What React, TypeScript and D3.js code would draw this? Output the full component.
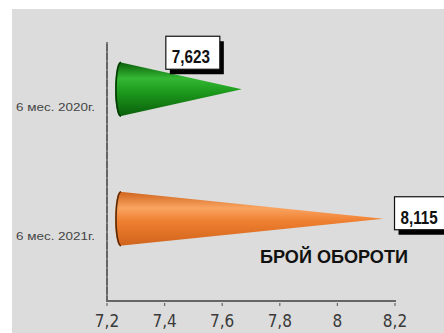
import React from "react";
import * as d3 from "d3";

const categories = ["6 мес. 2020г.", "6 мес. 2021г."];
const values = [7.623, 8.115];
const valueLabels = ["7,623", "8,115"];
const tickValues = [7.2, 7.4, 7.6, 7.8, 8, 8.2];
const tickLabels = ["7,2", "7,4", "7,6", "7,8", "8", "8,2"];
const seriesTitle = "БРОЙ ОБОРОТИ";
const labelPlacement = ["above", "right"];
const coneColors = [
  { dark: "#0b5e0b", mid: "#1c9a1c", light: "#34b834", edge: "#063806" },
  { dark: "#d0641c", mid: "#ef7f30", light: "#f9a461", edge: "#5a2a08" },
];

const W = 444;
const H = 333;
const NARROW = "'Liberation Sans Narrow', 'Arial Narrow', 'DejaVu Sans Condensed', sans-serif";
const SANS = "'Liberation Sans', Arial, sans-serif";

export default function App() {
  const x = d3.scaleLinear().domain([7.2, 8.2]).range([107, 395]);
  const y = d3.scaleBand<string>().domain(categories).range([42, 301]);
  const bw = y.bandwidth();
  const dx = 13;
  const dy = -17.5;
  const ry = 27;
  const rx = 5;

  return (
    <svg
      width={W}
      height={H}
      style={{ position: "absolute", left: 0, top: 0 }}
      xmlns="http://www.w3.org/2000/svg"
    >
      <defs>
        {coneColors.map((c, i) => (
          <linearGradient key={i} id={`g${i}`} x1="0" y1="0" x2="0" y2="1">
            <stop offset="0%" stopColor={c.dark} />
            <stop offset="30%" stopColor={c.light} />
            <stop offset="55%" stopColor={c.mid} />
            <stop offset="100%" stopColor={c.dark} />
          </linearGradient>
        ))}
      </defs>
      <rect x={0} y={0} width={W} height={H} fill="#ffffff" />
      <rect x={12} y={9} width={W - 12} height={H - 9} fill="#dcdcdc" />

      {/* axes */}
      <line x1={107} y1={42} x2={107} y2={301} stroke="#666" strokeWidth={2} />
      <line x1={107} y1={42} x2={107} y2={301} stroke="#bbb" strokeWidth={0.6} strokeDasharray="2 7" />
      <line x1={106} y1={301} x2={x(8.2) + 1} y2={301} stroke="#666" strokeWidth={2.2} />
      {tickValues.map((t, i) => (
        <g key={i}>
          <line x1={x(t)} y1={303} x2={x(t)} y2={306} stroke="#666" strokeWidth={1.2} />
          <text
            x={x(t)}
            y={327}
            textAnchor="middle"
            fontFamily={NARROW}
            fontSize={17}
            fill="#3a3a3a"
          >
            {tickLabels[i]}
          </text>
        </g>
      ))}

      {/* category labels */}
      {categories.map((c) => (
        <text
          key={c}
          x={95}
          y={(y(c) as number) + bw / 2 + 4}
          textAnchor="end"
          fontFamily={SANS}
          fontSize={11}
          fill="#444"
          textLength={79}
          lengthAdjust="spacingAndGlyphs"
        >
          {c}
        </text>
      ))}

      {/* cones */}
      {categories.map((c, i) => {
        const cy = (y(c) as number) + bw / 2 + dy;
        const bx = x(7.2) + dx;
        const tx = x(values[i]) + dx;
        const col = coneColors[i];
        const path = `M${bx},${cy - ry} L${tx},${cy} L${bx},${cy + ry} A${rx},${ry} 0 0 1 ${bx},${cy - ry} Z`;
        const leftArc = `M${bx + 1},${cy - ry} A${rx},${ry} 0 0 0 ${bx + 1},${cy + ry}`;
        return (
          <g key={c}>
            <path d={path} fill={`url(#g${i})`} />
            <path d={leftArc} fill="none" stroke={col.edge} strokeWidth={1.6} />
          </g>
        );
      })}

      {/* value labels */}
      {categories.map((c, i) => {
        const cy = (y(c) as number) + bw / 2 + dy;
        const tx = x(values[i]) + dx;
        const bwid = 54;
        const bh = 33;
        let bx0: number;
        let by0: number;
        if (labelPlacement[i] === "above") {
          bx0 = tx - 76;
          by0 = cy - 53;
        } else {
          bx0 = tx + 11;
          by0 = cy - 22;
        }
        return (
          <g key={c}>
            <rect x={bx0 + 4} y={by0 + 5} width={bwid} height={bh} fill="#000" />
            <rect x={bx0} y={by0} width={bwid} height={bh} fill="#fff" stroke="#111" strokeWidth={1.2} />
            <g transform={`translate(${bx0 + 6},${by0 + 27}) scale(0.8,1)`}>
              <text
                x={0}
                y={0}
                fontFamily={SANS}
                fontWeight="bold"
                fontSize={19}
                fill="#111"
              >
                {valueLabels[i]}
              </text>
            </g>
          </g>
        );
      })}

      {/* series title */}
      <text
        x={260}
        y={263}
        fontFamily={SANS}
        fontWeight="bold"
        fontSize={19}
        fill="#111"
        textLength={148}
        lengthAdjust="spacingAndGlyphs"
      >
        {seriesTitle}
      </text>
    </svg>
  );
}
